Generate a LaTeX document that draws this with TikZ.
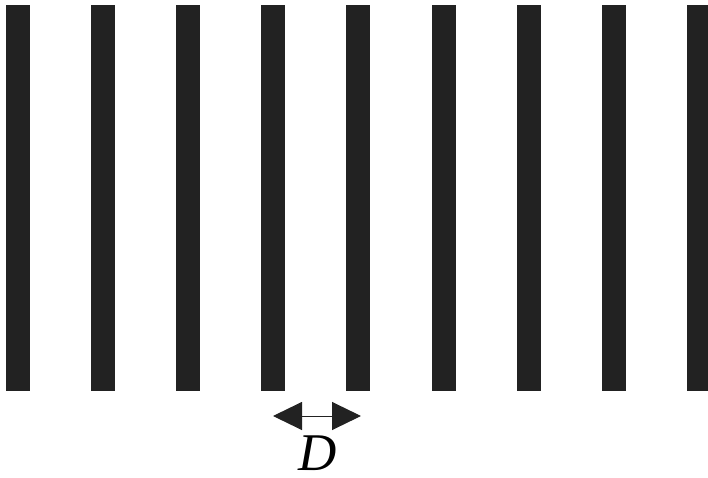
\documentclass[tikz,border=0pt]{standalone}
\usepackage{fontspec}
\setmainfont{Liberation Serif}
\usetikzlibrary{arrows.meta, positioning}
\definecolor{barcol}{HTML}{222222}

\begin{document}
\begin{tikzpicture}[x=1pt, y=1pt,
  bar/.style={fill=barcol, draw=none, inner sep=0pt, minimum width=24pt,
    minimum height=386pt},
  arrow/.style={{Triangle[length=29pt, width=28pt]}-{Triangle[length=29pt, width=28pt]},
    line width=1pt, barcol},
]
\useasboundingbox (0,0) rectangle (708,477);
\foreach \i in {0,...,8}
  \node[bar] (bar\i) at (18+85.1*\i, 279) {};
\coordinate (left) at (273,61);
\coordinate (right) at (361,61);
\draw[arrow] (left) -- (right);
\node[font=\fontsize{53}{53}\selectfont, inner sep=0pt] (dist) at (318,24) {\textit{D}};
\end{tikzpicture}
\end{document}
